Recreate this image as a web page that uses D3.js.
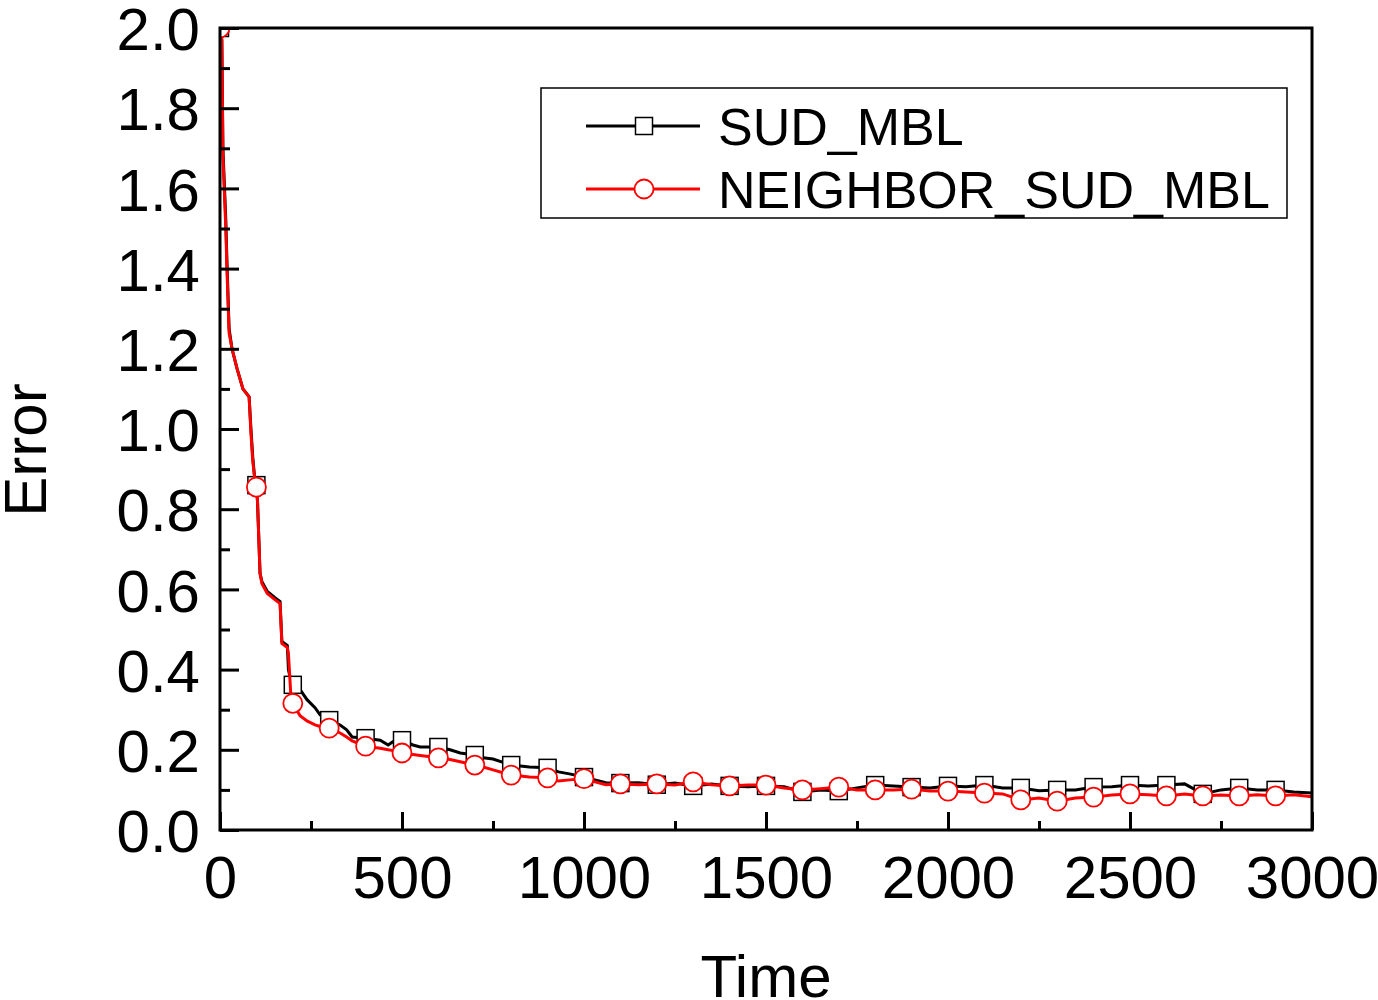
<!DOCTYPE html>
<html>
<head>
<meta charset="utf-8">
<script src="https://cdn.jsdelivr.net/npm/d3@7"></script>
<style>
  body { margin: 0; background: #fff; }
  text { font-family: "Liberation Sans", Arial, sans-serif; fill: #000; }
</style>
</head>
<body>
<div class="container"></div>
<script>
// chart size and plot margins
const width = 1378;
const height = 1000;
const margin = { top: 28, right: 66, bottom: 170, left: 220 };

// time points of the two curves (every multiple of 100 carries a marker)
const timeSteps = [0, 5, 8, 16, 19, 25, 33, 47, 63, 80, 85, 90, 95, 100, 103, 110, 115, 130, 150, 165,
  170, 185, 188, 195, 200, 220, 239, 261, 275, 300, 330, 348, 363, 400, 440, 462, 475, 500, 530, 550,
  600, 632, 660, 700, 723, 750, 780, 800, 850, 900, 930, 960, 1000, 1030, 1060, 1100, 1150, 1200, 1250, 1300,
  1350, 1400, 1450, 1500, 1550, 1600, 1650, 1700, 1750, 1800, 1850, 1900, 1950, 2000, 2050, 2100, 2150, 2200, 2250, 2300,
  2350, 2400, 2450, 2500, 2550, 2600, 2650, 2700, 2750, 2800, 2850, 2900, 2950, 3000];

// SUD_MBL error values
const sudMbl = [2.0, 1.97, 1.70, 1.52, 1.42, 1.25, 1.20, 1.15, 1.10, 1.08, 1.00, 0.93, 0.88, 0.86, 0.82, 0.64, 0.62, 0.595, 0.58, 0.57,
  0.47, 0.46, 0.40, 0.37, 0.362, 0.35, 0.325, 0.305, 0.287, 0.274, 0.262, 0.25, 0.232, 0.229, 0.224, 0.212, 0.22, 0.224, 0.212, 0.207,
  0.207, 0.20, 0.192, 0.187, 0.18, 0.177, 0.168, 0.162, 0.157, 0.155, 0.145, 0.14, 0.132, 0.125, 0.118, 0.117, 0.118, 0.113, 0.117, 0.11,
  0.115, 0.11, 0.108, 0.11, 0.108, 0.095, 0.10, 0.097, 0.105, 0.112, 0.11, 0.107, 0.105, 0.11, 0.108, 0.112, 0.105, 0.105, 0.098, 0.10,
  0.10, 0.107, 0.108, 0.112, 0.11, 0.112, 0.115, 0.09, 0.10, 0.105, 0.10, 0.10, 0.095, 0.092];

// NEIGHBOR_SUD_MBL error values
const neighborSudMbl = [2.0, 1.97, 1.68, 1.50, 1.40, 1.24, 1.20, 1.15, 1.10, 1.08, 0.99, 0.92, 0.88, 0.855, 0.82, 0.64, 0.615, 0.59, 0.575, 0.565,
  0.465, 0.455, 0.44, 0.33, 0.316, 0.285, 0.272, 0.262, 0.258, 0.254, 0.242, 0.232, 0.222, 0.209, 0.204, 0.20, 0.198, 0.192, 0.188, 0.186,
  0.18, 0.176, 0.17, 0.162, 0.157, 0.15, 0.142, 0.137, 0.132, 0.13, 0.122, 0.125, 0.128, 0.12, 0.113, 0.115, 0.113, 0.115, 0.112, 0.12,
  0.113, 0.11, 0.112, 0.112, 0.105, 0.10, 0.103, 0.107, 0.10, 0.10, 0.10, 0.102, 0.097, 0.097, 0.095, 0.092, 0.09, 0.075, 0.08, 0.072,
  0.08, 0.082, 0.087, 0.09, 0.088, 0.085, 0.09, 0.085, 0.087, 0.085, 0.088, 0.085, 0.088, 0.083];

// axis ticks
const xMajor = [0, 500, 1000, 1500, 2000, 2500, 3000];
const xMinor = [250, 750, 1250, 1750, 2250, 2750];
const yMajor = [0.0, 0.2, 0.4, 0.6, 0.8, 1.0, 1.2, 1.4, 1.6, 1.8, 2.0];
const yMinor = [0.1, 0.3, 0.5, 0.7, 0.9, 1.1, 1.3, 1.5, 1.7, 1.9];

const seriesNames = ["SUD_MBL", "NEIGHBOR_SUD_MBL"];

const svg = d3.select(".container")
  .append("svg")
  .attr("width", width)
  .attr("height", height);

const xScale = d3.scaleLinear()
  .domain([0, 3000])
  .range([margin.left, width - margin.right]);

const yScale = d3.scaleLinear()
  .domain([0, 2.0])
  .range([height - margin.bottom, margin.top]);

// clip so markers sitting on the frame get cut like the original
svg.append("clipPath")
  .attr("id", "plotClip")
  .append("rect")
  .attr("x", margin.left)
  .attr("y", margin.top)
  .attr("width", width - margin.left - margin.right)
  .attr("height", height - margin.top - margin.bottom);

const sudData = timeSteps.map((t, i) => ({ t: t, v: sudMbl[i] }));
const nbrData = timeSteps.map((t, i) => ({ t: t, v: neighborSudMbl[i] }));

const line = d3.line()
  .x(d => xScale(d.t))
  .y(d => yScale(d.v));

const plot = svg.append("g").attr("clip-path", "url(#plotClip)");

// black line + squares
plot.append("path")
  .datum(sudData)
  .attr("d", line)
  .attr("fill", "none")
  .attr("stroke", "#000")
  .attr("stroke-width", 3);

plot.append("g")
  .selectAll("rect")
  .data(sudData.filter(d => d.t % 100 === 0 && d.t < 3000))
  .join("rect")
  .attr("x", d => xScale(d.t) - 8.5)
  .attr("y", d => yScale(d.v) - 8.5)
  .attr("width", 17)
  .attr("height", 17)
  .attr("fill", "#fff")
  .attr("stroke", "#000")
  .attr("stroke-width", 1.5);

// red line + circles
plot.append("path")
  .datum(nbrData)
  .attr("d", line)
  .attr("fill", "none")
  .attr("stroke", "#ff0000")
  .attr("stroke-width", 3);

plot.append("g")
  .selectAll("circle")
  .data(nbrData.filter(d => d.t % 100 === 0 && d.t < 3000))
  .join("circle")
  .attr("cx", d => xScale(d.t))
  .attr("cy", d => yScale(d.v))
  .attr("r", 9.5)
  .attr("fill", "#fff")
  .attr("stroke", "#ff0000")
  .attr("stroke-width", 1.8);

// axes with inward ticks
const bottomY = height - margin.bottom;

svg.append("g")
  .attr("transform", `translate(0, ${bottomY})`)
  .call(d3.axisBottom(xScale).tickValues(xMinor).tickSizeInner(-9).tickSizeOuter(0).tickFormat(""))
  .call(g => g.select(".domain").remove())
  .call(g => g.selectAll("line").attr("stroke-width", 3));

svg.append("g")
  .attr("transform", `translate(0, ${bottomY})`)
  .call(d3.axisBottom(xScale).tickValues(xMajor).tickSizeInner(-18).tickSizeOuter(0).tickFormat(d3.format("d")))
  .call(g => g.select(".domain").remove())
  .call(g => g.selectAll("line").attr("stroke-width", 3))
  .call(g => g.selectAll("text")
    .attr("y", 68)
    .attr("dy", null)
    .attr("font-size", 60)
    .attr("font-family", "Liberation Sans, Arial, sans-serif"));

svg.append("g")
  .attr("transform", `translate(${margin.left}, 0)`)
  .call(d3.axisLeft(yScale).tickValues(yMinor).tickSizeInner(-10).tickSizeOuter(0).tickFormat(""))
  .call(g => g.select(".domain").remove())
  .call(g => g.selectAll("line").attr("stroke-width", 3));

svg.append("g")
  .attr("transform", `translate(${margin.left}, 0)`)
  .call(d3.axisLeft(yScale).tickValues(yMajor).tickSizeInner(-19).tickSizeOuter(0).tickFormat(d3.format(".1f")))
  .call(g => g.select(".domain").remove())
  .call(g => g.selectAll("line").attr("stroke-width", 3))
  .call(g => g.selectAll("text")
    .attr("x", -20)
    .attr("dy", "0.36em")
    .attr("font-size", 60)
    .attr("font-family", "Liberation Sans, Arial, sans-serif"));

// frame around the plot
svg.append("rect")
  .attr("x", margin.left)
  .attr("y", margin.top)
  .attr("width", width - margin.left - margin.right)
  .attr("height", height - margin.top - margin.bottom)
  .attr("fill", "none")
  .attr("stroke", "#000")
  .attr("stroke-width", 3);

// axis titles
svg.append("text")
  .attr("x", (margin.left + width - margin.right) / 2)
  .attr("y", 997)
  .attr("text-anchor", "middle")
  .attr("font-size", 60)
  .text("Time");

svg.append("text")
  .attr("transform", "translate(46, 450) rotate(-90)")
  .attr("text-anchor", "middle")
  .attr("font-size", 60)
  .text("Error");

// legend
const legend = svg.append("g");

legend.append("rect")
  .attr("x", 541)
  .attr("y", 88)
  .attr("width", 746)
  .attr("height", 130)
  .attr("fill", "#fff")
  .attr("stroke", "#000")
  .attr("stroke-width", 1.5);

const legendRows = [
  { name: seriesNames[0], color: "#000", shape: "square", y: 126 },
  { name: seriesNames[1], color: "#ff0000", shape: "circle", y: 189 }
];

legendRows.forEach(r => {
  legend.append("line")
    .attr("x1", 586).attr("x2", 700)
    .attr("y1", r.y).attr("y2", r.y)
    .attr("stroke", r.color)
    .attr("stroke-width", 3);
  if (r.shape === "square") {
    legend.append("rect")
      .attr("x", 644 - 8.5).attr("y", r.y - 8.5)
      .attr("width", 17).attr("height", 17)
      .attr("fill", "#fff").attr("stroke", r.color).attr("stroke-width", 1.5);
  } else {
    legend.append("circle")
      .attr("cx", 644).attr("cy", r.y).attr("r", 9.5)
      .attr("fill", "#fff").attr("stroke", r.color).attr("stroke-width", 1.8);
  }
  legend.append("text")
    .attr("x", 718)
    .attr("y", r.y + 19)
    .attr("font-size", 52)
    .text(r.name);
});
</script>
</body>
</html>
